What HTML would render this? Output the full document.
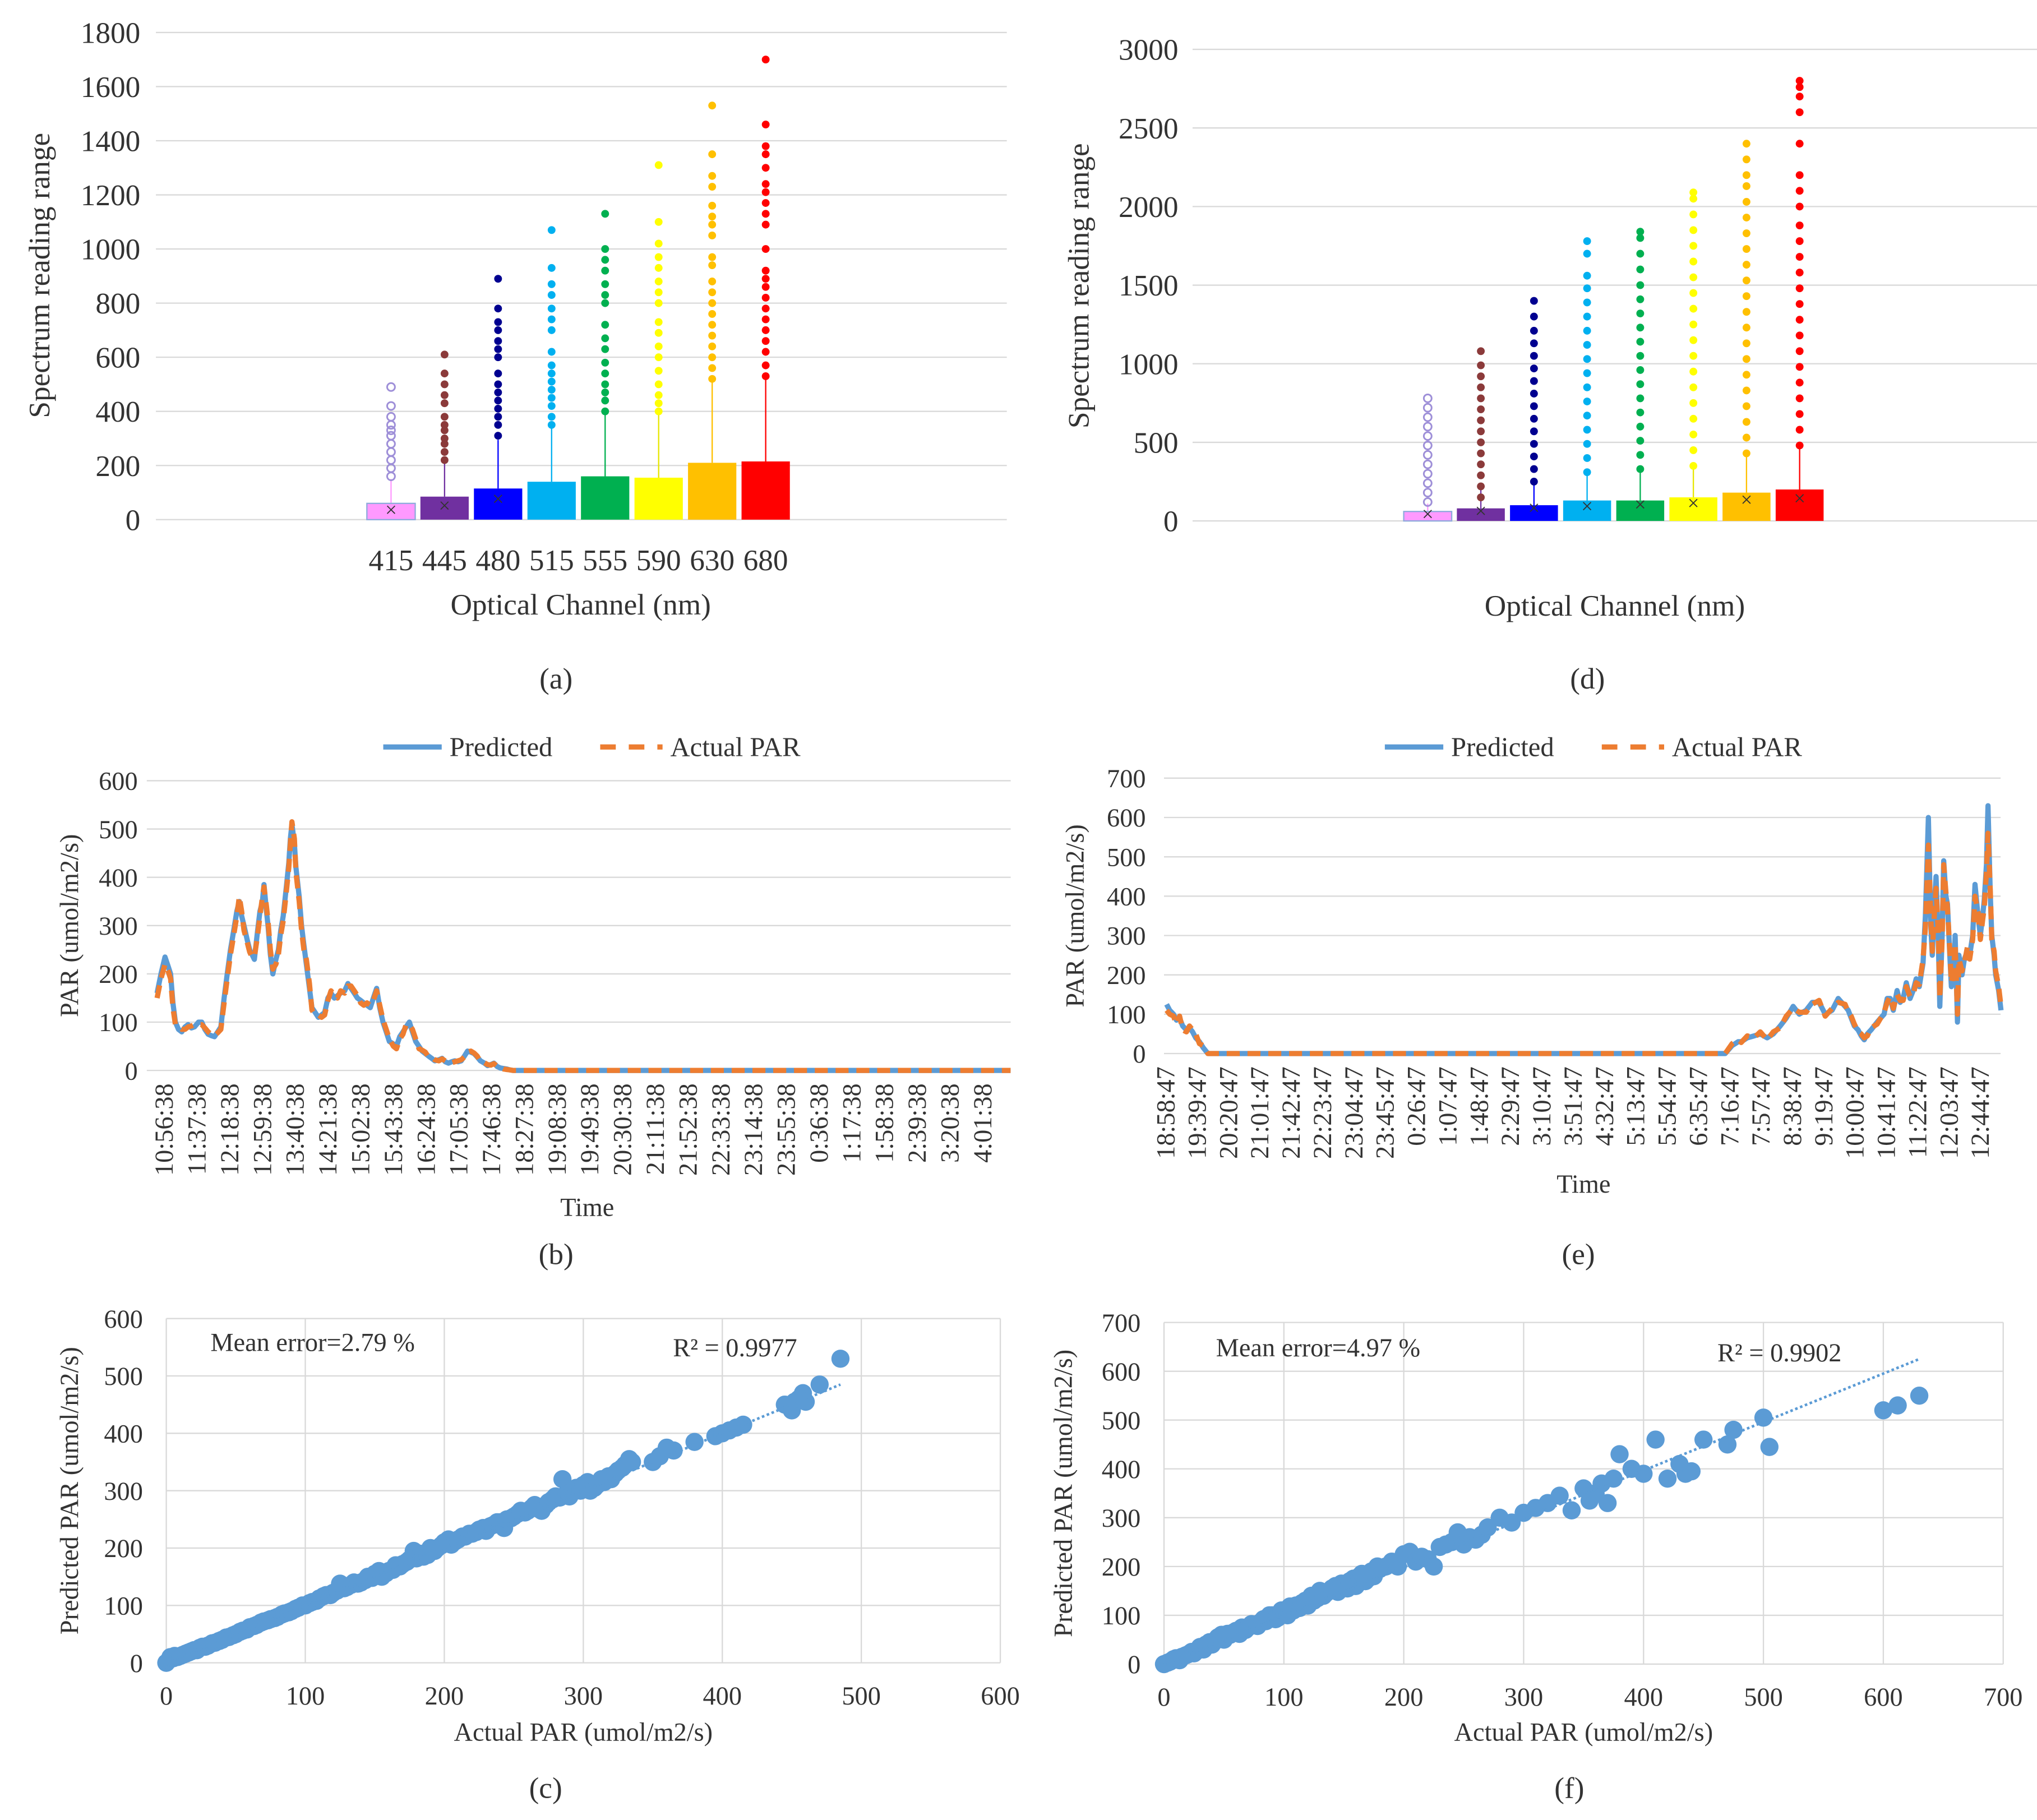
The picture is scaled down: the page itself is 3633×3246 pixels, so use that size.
<!DOCTYPE html>
<html><head><meta charset="utf-8"><style>
html,body{margin:0;padding:0;background:#fff}
svg{display:block}
text{font-family:"Liberation Serif","Times New Roman",serif;fill:#333}
</style></head><body>
<svg id="fig" xmlns="http://www.w3.org/2000/svg" width="3633" height="3246" viewBox="0 0 1568 1401" font-family="Liberation Serif, serif">
<rect width="1568" height="1401" fill="#fff"/>
</svg>
<script>
// ---------- DATA ----------
const channels = ["415","445","480","515","555","590","630","680"];
const boxColors = ["#ff99ff","#7030a0","#0000ff","#00b0f0","#00b050","#ffff00","#ffc000","#ff0000"];
const outColors = ["#9e8fd8","#8b3a3a","#000090","#00b0f0","#00b050","#ffff00","#ffc000","#ff0000"];
const aTicks = [0,200,400,600,800,1000,1200,1400,1600,1800];
const aBoxTop = [60,85,115,140,160,155,210,215];
const aWhisker = [150,210,295,345,390,390,515,525];
const aMean = [40,55,80,null,null,null,null,null];
const aOut = [
 [160,190,220,250,280,310,330,350,380,420,490],
 [220,250,280,300,330,350,380,430,460,500,540,610],
 [310,350,380,410,440,470,500,540,600,630,660,700,730,780,890],
 [350,380,420,450,480,510,540,570,620,700,740,780,830,870,930,1070],
 [400,440,470,500,540,580,630,670,720,800,830,870,920,960,1000,1130],
 [400,430,460,500,550,600,640,690,730,800,840,880,930,970,1020,1100,1310],
 [520,560,600,640,680,720,760,800,840,880,940,970,1050,1090,1120,1160,1230,1270,1350,1530],
 [530,570,620,660,700,740,780,820,860,890,920,1000,1090,1130,1170,1210,1240,1300,1350,1380,1460,1700]];
const dTicks = [0,500,1000,1500,2000,2500,3000];
const dBoxTop = [60,80,100,130,130,150,180,200];
const dWhisker = [110,200,250,310,330,350,430,480];
const dMean = [50,70,90,100,110,120,140,150];
const dOut = [
 [120,180,240,300,360,420,480,540,600,660,720,780],
 [150,220,290,360,430,500,570,640,710,780,850,920,990,1080],
 [250,330,410,490,570,650,730,810,890,970,1050,1130,1210,1300,1400],
 [310,400,490,580,670,760,850,940,1030,1120,1210,1300,1390,1480,1560,1700,1780],
 [330,420,510,600,690,780,870,960,1050,1140,1230,1320,1410,1500,1600,1700,1800,1840],
 [350,450,550,650,750,850,950,1050,1150,1250,1350,1450,1550,1650,1750,1850,1950,2050,2090],
 [430,530,630,730,830,930,1030,1130,1230,1330,1430,1530,1630,1730,1830,1930,2030,2130,2200,2300,2400],
 [480,580,680,780,880,980,1080,1180,1280,1380,1480,1580,1680,1780,1880,2000,2100,2200,2400,2600,2700,2760,2800]];

const bLabels = ["10:56:38","11:37:38","12:18:38","12:59:38","13:40:38","14:21:38","15:02:38","15:43:38","16:24:38","17:05:38","17:46:38","18:27:38","19:08:38","19:49:38","20:30:38","21:11:38","21:52:38","22:33:38","23:14:38","23:55:38","0:36:38","1:17:38","1:58:38","2:39:38","3:20:38","4:01:38"];
const bTicks = [0,100,200,300,400,500,600];
const bTime = [-10,-5,0,4,7,10,13,17,21,25,29,33,37,42,46,50,54,58,62,66,70,74,78,82,86,90,93,96,99,103,106,109,112,116,119,122,124,127,129,132,135,139,142,145,148,152,155,157,159,162,164,168,171,174,177,181,184,188,192,196,200,204,208,212,216,220,225,229,233,237,241,245,249,253,257,261,265,269,273,277,281,286,290,294,298,302,306,310,314,318,322,326,330,334,338,343,347,351,355,359,363,367,371,375,379,383,387,391,395,400,404,408,412,416,420,424,428,432,436,1059];
const bPred = [160,200,235,215,200,140,100,85,80,90,95,88,90,100,100,85,75,72,70,80,90,150,200,250,290,330,350,320,300,270,250,240,230,290,330,350,385,330,300,240,200,230,250,290,320,380,430,480,510,470,420,360,300,260,220,170,130,120,110,115,120,150,160,150,155,160,165,180,170,160,150,145,140,135,130,150,170,130,100,80,60,55,50,70,80,90,100,80,60,50,40,35,30,25,20,22,25,18,15,18,20,18,20,30,40,38,35,28,20,15,10,12,15,8,5,4,3,1,0,0];
const bAct  = [150,190,220,205,190,130,95,90,85,85,90,92,95,95,95,88,80,75,72,78,85,140,190,240,280,320,360,330,290,265,245,235,235,280,320,360,380,340,310,250,210,220,240,280,310,370,420,470,515,480,410,350,290,250,230,180,125,115,115,110,115,145,165,155,150,165,160,175,175,165,155,140,135,140,135,145,165,135,105,85,65,50,45,65,75,95,95,85,65,45,42,38,28,27,22,20,24,20,16,16,18,20,22,28,38,40,36,30,18,16,12,11,14,9,6,3,2,1,0,0];

const eLabels = ["18:58:47","19:39:47","20:20:47","21:01:47","21:42:47","22:23:47","23:04:47","23:45:47","0:26:47","1:07:47","1:48:47","2:29:47","3:10:47","3:51:47","4:32:47","5:13:47","5:54:47","6:35:47","7:16:47","7:57:47","8:38:47","9:19:47","10:00:47","10:41:47","11:22:47","12:03:47","12:44:47"];
const eTicks = [0,100,200,300,400,500,600,700];
const eTime = [0,4,9,13,17,21,26,30,34,38,43,48,54,731,740,748,752,760,769,777,786,794,803,811,820,828,837,845,854,862,871,879,888,892,896,900,905,909,913,917,922,930,939,943,947,951,956,960,964,968,973,977,981,985,990,993,997,1000,1002,1005,1007,1010,1012,1015,1017,1020,1022,1025,1027,1030,1032,1035,1037,1041,1044,1048,1051,1055,1058,1062,1065,1068,1070,1073,1075,1078,1080,1083,1085,1089,1092];
const ePred = [125,110,100,85,90,70,60,65,55,40,30,15,0,0,20,30,30,40,45,50,40,50,70,90,120,100,110,130,130,100,110,140,120,110,90,70,60,45,35,50,60,80,100,140,140,110,160,130,140,180,140,160,190,170,230,350,600,330,250,380,450,280,120,300,490,400,380,250,170,200,300,80,250,200,240,260,250,300,430,350,300,350,390,480,630,400,300,250,200,160,110];
const eAct  = [110,100,95,75,95,60,55,70,60,50,25,20,0,0,25,35,28,45,40,55,35,55,65,95,115,105,105,125,135,95,115,130,125,105,95,75,55,50,40,45,65,75,105,130,145,115,150,135,135,170,145,150,180,175,240,320,530,350,260,360,420,300,140,290,480,410,370,260,180,210,280,100,240,210,230,270,240,290,400,360,290,340,370,460,560,410,290,260,210,170,120];

const cTicks = [0,100,200,300,400,500,600];
const cX = [0,2,3,5,6,8,10,12,14,16,18,20,22,24,26,28,30,33,35,38,40,43,45,48,50,53,55,58,60,63,65,68,70,73,75,78,80,83,85,88,90,93,95,98,100,103,105,108,110,113,115,118,120,123,125,128,130,133,135,138,140,143,145,148,150,153,155,158,160,163,165,168,170,173,175,178,180,183,185,188,190,193,195,198,200,203,205,208,210,213,215,218,220,223,225,228,230,233,235,238,240,243,245,248,250,253,255,258,260,263,265,268,270,273,275,278,280,283,285,288,290,293,295,298,300,303,305,308,310,313,315,318,320,323,325,328,330,333,335,350,355,360,365,380,395,400,405,410,415,445,450,452,455,458,460,470,485];
const cY = [0,5,10,8,12,10,12,14,16,18,20,22,22,26,28,28,30,34,35,38,40,44,45,48,50,54,56,58,62,64,66,70,72,74,76,78,80,84,86,88,90,94,96,100,100,104,106,108,112,116,118,118,122,126,138,130,132,136,140,138,140,144,150,148,155,160,150,156,160,162,170,168,172,176,180,195,182,190,185,188,200,195,200,205,210,215,206,212,215,220,220,225,225,228,232,235,230,238,240,245,245,235,250,252,255,260,265,262,265,270,275,268,265,275,280,285,290,288,320,295,290,300,305,300,310,315,300,305,310,320,315,325,320,330,335,340,345,355,350,350,360,375,370,385,395,400,405,410,415,450,440,455,460,470,455,485,530];
const fTicks = [0,100,200,300,400,500,600,700];
const fX = [0,3,5,8,10,13,15,18,20,23,25,28,30,33,35,38,40,43,45,48,50,53,55,58,60,63,65,68,70,73,75,78,80,83,85,88,90,93,95,98,100,103,105,108,110,113,115,118,120,123,125,128,130,133,135,138,140,143,145,148,150,153,155,158,160,163,165,168,170,173,175,178,180,185,190,195,200,205,210,215,220,225,230,235,240,245,250,255,260,265,270,280,290,300,310,320,330,340,350,355,360,365,370,375,380,390,400,410,420,430,435,440,450,470,475,500,505,600,612,630];
const fY = [0,3,5,10,12,8,15,18,20,25,22,28,35,30,40,45,40,48,55,60,50,62,60,65,68,62,75,70,75,82,80,78,85,92,88,100,100,92,95,110,108,100,118,110,120,115,125,130,120,140,130,135,150,140,145,150,155,160,148,165,160,155,170,175,160,180,185,170,175,190,180,200,195,200,210,200,225,230,210,220,215,200,240,245,250,270,245,260,255,265,280,300,290,310,320,330,345,315,360,335,350,370,330,380,430,400,390,460,380,410,390,395,460,450,480,505,445,520,530,550,580];

// ---------- HELPERS ----------
const NS="http://www.w3.org/2000/svg";
const svg=document.getElementById('fig');
function mk(tag,attrs,parent,txt){const e=document.createElementNS(NS,tag);for(const k in attrs)e.setAttribute(k,attrs[k]);if(txt!==undefined)e.textContent=txt;(parent||svg).appendChild(e);return e;}
function lin(d0,d1,r0,r1){return v=>r0+(v-d0)*(r1-r0)/(d1-d0);}

// ---------- BOX PANELS ----------
function boxPanel(id,x0,x1,yTop,yBot,ticks,c0,step,boxTop,whisk,mean,outs,labelX,titleX,subX,xLabelsY,xTitleY,yTitleX,yTitleY){
  const g=mk('g',{});
  
  
  const y=lin(0,ticks[ticks.length-1],yBot,yTop);
  ticks.forEach(t=>{
    const l=mk('line',{x1:x0,x2:x1,y1:y(t),y2:y(t),stroke:'#d9d9d9','stroke-width':1},g);
    
    
    const tx=mk('text',{x:labelX,y:y(t)+8,'text-anchor':'end','font-size':23},g,String(t));
    
    
  });
  const cx=i=>c0+i*step;
  channels.forEach((ch,i)=>{
    const w=step-4;
    const wl=mk('line',{x1:cx(i),x2:cx(i),y1:y(whisk[i]),y2:y(boxTop[i]),stroke:outColors[i]==='#ffff00'?'#e6e600':boxColors[i],'stroke-width':1},g);
    
    
    const b=mk('rect',{x:cx(i)-w/2,y:y(boxTop[i]),width:w,height:y(0)-y(boxTop[i]),fill:boxColors[i],stroke:i===0?'#8faadc':'none','stroke-width':1},g);
    
    
    outs[i].forEach(v=>{
      const c=mk('circle',{cx:cx(i),cy:y(v),r:3,fill:i===0?'none':outColors[i],stroke:outColors[i],'stroke-width':i===0?1.3:0},g);
      
      
    });
    if(mean[i]!==null){
      const m=mk('text',{x:cx(i),y:y(mean[i])+6,'text-anchor':'middle','font-size':16,fill:i===0?'#8faadc':(i===1?'#ed7d31':'#9dc3e6')},g,'×');
      
      
    }
    if(xLabelsY){
      const xl=mk('text',{x:cx(i),y:xLabelsY,'text-anchor':'middle','font-size':23},g,ch);
      
      
    }
  });
  const xt=mk('text',{x:titleX,y:xTitleY,'text-anchor':'middle','font-size':23},g,'Optical Channel (nm)');
  
  
  const yt=mk('text',{x:0,y:0,'text-anchor':'middle','font-size':23,transform:`translate(${yTitleX},${yTitleY}) rotate(-90)`},g,'Spectrum reading range');
  
  
  const st=mk('text',{x:subX,y:530,'text-anchor':'middle','font-size':23},g,'('+id+')');
  
  
}
boxPanel('a',120,775,25,400,aTicks,301,41.2,aBoxTop,aWhisker,aMean,aOut,108,447,428,439,473,38,212);
boxPanel('d',918,1568,38,401,dTicks,1099,40.9,dBoxTop,dWhisker,dMean,dOut,907,1243,1222,0,474,838,220);

// ---------- TIME SERIES ----------
function linePanel(id,x0,x1,yTop,yBot,ticks,labels,lx0,lx1,labelStep,times,pred,act,tickLabelX,legX,yTitleX,timeX,timeY,subX){
  const g=mk('g',{});
  
  
  const y=lin(0,ticks[ticks.length-1],yBot,yTop);
  const x=lin(0,(labels.length-1)*labelStep,lx0,lx1);
  ticks.forEach(t=>{
    const l=mk('line',{x1:x0,x2:x1,y1:y(t),y2:y(t),stroke:'#d9d9d9','stroke-width':1},g);
    
    
    const tx=mk('text',{x:tickLabelX,y:y(t)+7,'text-anchor':'end','font-size':20},g,String(t));
    
    
  });
  labels.forEach((lb,i)=>{
    const px=x(i*labelStep);
    const tx=mk('text',{x:0,y:0,'text-anchor':'end','font-size':20,transform:`translate(${px+6},${yBot+10}) rotate(-90)`},g,lb);
    
    
  });
  const pts=arr=>times.map((t,i)=>x(t).toFixed(1)+','+y(arr[i]).toFixed(1)).join(' ');
  const p1=mk('polyline',{points:pts(pred),fill:'none',stroke:'#5b9bd5','stroke-width':4,'stroke-linejoin':'round'},g);
  
  
  const p2=mk('polyline',{points:pts(act),fill:'none',stroke:'#ed7d31','stroke-width':4,'stroke-dasharray':'10,6','stroke-linejoin':'round'},g);
  
  
  const lg=mk('g',{},g);
  
  
  const l1=mk('line',{x1:legX,x2:legX+45,y1:575,y2:575,stroke:'#5b9bd5','stroke-width':4},lg);
  
  
  const t1=mk('text',{x:legX+51,y:582,'font-size':21},lg,'Predicted');
  
  
  const l2=mk('line',{x1:legX+167,x2:legX+215,y1:575,y2:575,stroke:'#ed7d31','stroke-width':4,'stroke-dasharray':'12,10'},lg);
  
  
  const t2=mk('text',{x:legX+221,y:582,'font-size':21},lg,'Actual PAR');
  
  
  const yt=mk('text',{x:0,y:0,'text-anchor':'middle','font-size':20,transform:`translate(${yTitleX},${(yTop+yBot)/2}) rotate(-90)`},g,'PAR (umol/m2/s)');
  
  
  const tt=mk('text',{x:timeX,y:timeY,'text-anchor':'middle','font-size':20},g,'Time');
  
  
  const st=mk('text',{x:subX,y:973,'text-anchor':'middle','font-size':23},g,'('+id+')');
  
  
}
linePanel('b',113,778,601,824,bTicks,bLabels,127,757,41,bTime,bPred,bAct,106,295,60,452,936,428);
linePanel('e',896,1540,599,811,eTicks,eLabels,898,1525,41,eTime,ePred,eAct,882,1066,834,1219,918,1215);

// ---------- SCATTER ----------
function scatterPanel(id,x0,x1,yTop,yBot,ticks,xs,ys,trendEnd,meanTxt,meanX,r2Txt,r2X,textY,yTitleX,subX){
  const g=mk('g',{});
  
  
  const mx=ticks[ticks.length-1];
  const y=lin(0,mx,yBot,yTop), x=lin(0,mx,x0,x1);
  ticks.forEach(t=>{
    const l=mk('line',{x1:x0,x2:x1,y1:y(t),y2:y(t),stroke:'#d9d9d9','stroke-width':1},g);
    
    
    const v=mk('line',{x1:x(t),x2:x(t),y1:yTop,y2:yBot,stroke:'#d9d9d9','stroke-width':1},g);
    
    
    const tx=mk('text',{x:x0-18,y:y(t)+7,'text-anchor':'end','font-size':20},g,String(t));
    
    
    const tx2=mk('text',{x:x(t),y:yBot+32,'text-anchor':'middle','font-size':20},g,String(t));
    
    
  });
  xs.forEach((v,i)=>{
    const c=mk('circle',{cx:x(v),cy:y(ys[i]),r:7,fill:'#5b9bd5'},g);
    
    
  });
  const tl=mk('line',{x1:x(0),y1:y(0),x2:x(trendEnd[0]),y2:y(trendEnd[1]),stroke:'#5b9bd5','stroke-width':2,'stroke-dasharray':'2,2'},g);
  
  
  const m=mk('text',{x:meanX,y:textY,'font-size':20},g,meanTxt);
  
  
  const r=mk('text',{x:r2X,y:textY+4,'font-size':20},g,r2Txt);
  
  
  const xt=mk('text',{x:(x0+x1)/2,y:1340,'text-anchor':'middle','font-size':20},g,'Actual PAR (umol/m2/s)');
  
  
  const yt=mk('text',{x:0,y:0,'text-anchor':'middle','font-size':20,transform:`translate(${yTitleX},${(yTop+yBot)/2}) rotate(-90)`},g,'Predicted PAR (umol/m2/s)');
  
  
  const st=mk('text',{x:subX,y:1384,'text-anchor':'middle','font-size':23},g,'('+id+')');
  
  
}
scatterPanel('c',128,770,1015,1280,cTicks,cX,cY,[485,485],'Mean error=2.79 %',162,'R² = 0.9977',518,1040,60,420);
scatterPanel('f',896,1542,1018,1281,fTicks,fX,fY,[630,625],'Mean error=4.97  %',936,'R² = 0.9902',1322,1044,825,1208);
</script>
</body></html>
